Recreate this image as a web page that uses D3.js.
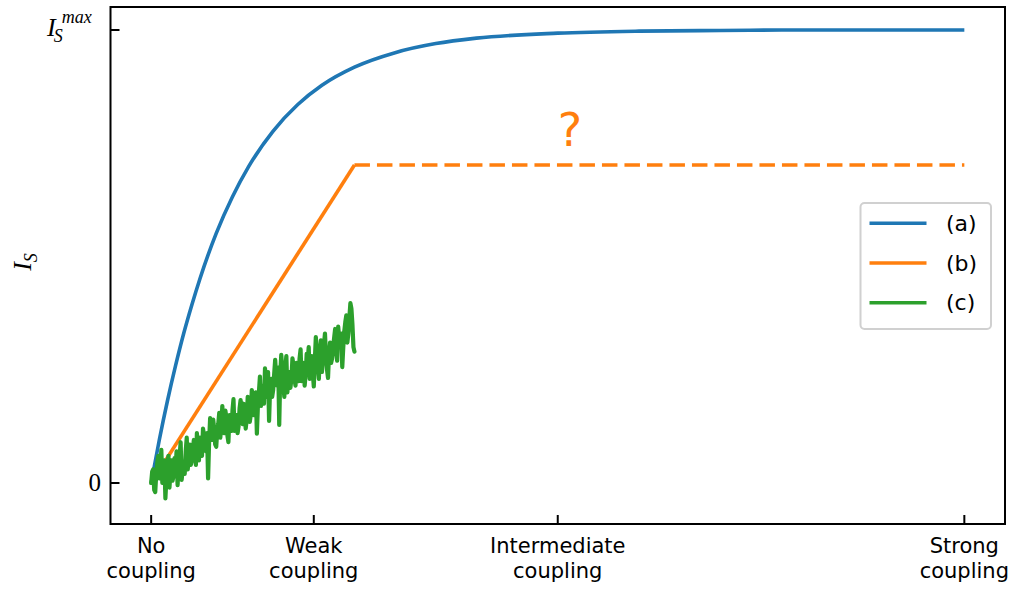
<!DOCTYPE html>
<html>
<head>
<meta charset="utf-8">
<script src="https://cdn.jsdelivr.net/npm/d3@7"></script>
<style>
  html, body { margin: 0; padding: 0; background: #fff; }
  svg { display: block; }
</style>
</head>
<body>
<svg id="chart" width="1013" height="590"></svg>
<script>
// Coupling regimes on the x axis
const xTickValues = [0, 0.2, 0.5, 1.0];
const xTickLabels = [["No", "coupling"], ["Weak", "coupling"], ["Intermediate", "coupling"], ["Strong", "coupling"]];

// Curve (a): saturating response
const curveAX = [0, 0.01, 0.02, 0.03, 0.04, 0.05, 0.06, 0.08, 0.10, 0.12, 0.15, 0.18, 0.21, 0.25, 0.30, 0.35, 0.40, 0.50, 0.60, 0.70, 0.80, 0.90, 1.00];
const curveAY = [0, 0.095, 0.181, 0.259, 0.330, 0.393, 0.451, 0.551, 0.632, 0.699, 0.777, 0.835, 0.878, 0.918, 0.950, 0.970, 0.982, 0.993, 0.9975, 0.999, 1.0, 1.0, 1.0];

// Curve (b): linear rise, then unknown plateau
const curveBX = [0, 0.25];
const curveBY = [0, 0.702];
const curveBDashX = [0.25, 1.0];
const curveBDashY = [0.702, 0.702];

// Curve (c): noisy measurement, x from 0 to 0.25 in steps of 0.00125
const curveCStep = 0.00125;
const curveCY = [
  0.000, 0.025, 0.030, -0.015, -0.020, 0.020, 0.045, 0.060, 0.010, 0.035, 0.073, 0.000, 0.020, 0.050, -0.034, 0.010, 0.040, 0.060, -0.010, 0.025,
  0.050, 0.005, 0.015, 0.055, 0.035, 0.070, -0.005, 0.040, 0.060, 0.090, 0.007, 0.030, 0.045, 0.020, 0.070, 0.100, 0.030, 0.060, 0.085, 0.040,
  0.050, 0.075, 0.095, 0.060, 0.040, 0.110, 0.080, 0.050, 0.100, 0.075, 0.060, 0.120, 0.105, 0.080, 0.070, 0.110, 0.010, 0.090, 0.143, 0.120,
  0.095, 0.140, 0.120, 0.085, 0.080, 0.115, 0.130, 0.155, 0.100, 0.125, 0.170, 0.130, 0.110, 0.160, 0.145, 0.105, 0.090, 0.150, 0.135, 0.115,
  0.160, 0.185, 0.115, 0.140, 0.150, 0.110, 0.125, 0.165, 0.183, 0.150, 0.130, 0.175, 0.160, 0.120, 0.140, 0.190, 0.175, 0.135, 0.150, 0.205,
  0.190, 0.150, 0.165, 0.200, 0.109, 0.170, 0.200, 0.235, 0.170, 0.195, 0.215, 0.175, 0.253, 0.220, 0.190, 0.245, 0.137, 0.210, 0.230, 0.190,
  0.205, 0.240, 0.272, 0.235, 0.215, 0.255, 0.128, 0.240, 0.283, 0.250, 0.220, 0.190, 0.255, 0.280, 0.200, 0.230, 0.245, 0.210, 0.230, 0.275,
  0.260, 0.230, 0.215, 0.265, 0.250, 0.225, 0.275, 0.295, 0.225, 0.250, 0.265, 0.215, 0.240, 0.285, 0.270, 0.300, 0.230, 0.260, 0.280, 0.245,
  0.213, 0.270, 0.322, 0.290, 0.260, 0.230, 0.290, 0.315, 0.245, 0.275, 0.305, 0.330, 0.280, 0.250, 0.232, 0.285, 0.310, 0.265, 0.275, 0.300,
  0.320, 0.340, 0.290, 0.270, 0.345, 0.320, 0.300, 0.330, 0.256, 0.300, 0.335, 0.355, 0.370, 0.310, 0.330, 0.365, 0.397, 0.385, 0.350, 0.300,
  0.290
];

const legendLabels = ["(a)", "(b)", "(c)"];
const colors = ["#1f77b4", "#ff7f0e", "#2ca02c"];

const svg = d3.select("#chart");
svg.append("rect").attr("width", 1013).attr("height", 590).attr("fill", "#fff");

const x = d3.scaleLinear().domain([-0.05, 1.05]).range([110.5, 1005]);
const y = d3.scaleLinear().domain([0, 1]).range([483, 30]);
const plotTop = 7, plotBottom = 524;

const sansFont = "'DejaVu Sans', sans-serif";
const serifFont = "'Liberation Serif', 'DejaVu Serif', serif";

// Clip region for the plot area
svg.append("clipPath").attr("id", "plotClip")
  .append("rect")
  .attr("x", x.range()[0]).attr("y", plotTop)
  .attr("width", x.range()[1] - x.range()[0]).attr("height", plotBottom - plotTop);

const plot = svg.append("g").attr("clip-path", "url(#plotClip)");

const line = d3.line().x(d => x(d[0])).y(d => y(d[1]));

// (a)
plot.append("path")
  .datum(curveAX.map((v, i) => [v, curveAY[i]]))
  .attr("d", line.curve(d3.curveMonotoneX))
  .attr("fill", "none").attr("stroke", colors[0]).attr("stroke-width", 3.6)
  .attr("stroke-linejoin", "round").attr("stroke-linecap", "butt");

line.curve(d3.curveLinear);

// (b) solid part and dashed continuation
plot.append("path")
  .datum(curveBX.map((v, i) => [v, curveBY[i]]))
  .attr("d", line)
  .attr("fill", "none").attr("stroke", colors[1]).attr("stroke-width", 3.6)
  .attr("stroke-linejoin", "round");

plot.append("path")
  .datum(curveBDashX.map((v, i) => [v, curveBDashY[i]]))
  .attr("d", line)
  .attr("fill", "none").attr("stroke", colors[1]).attr("stroke-width", 3.6)
  .attr("stroke-dasharray", "15.5,7");

// (c)
plot.append("path")
  .datum(curveCY.map((v, i) => [i * curveCStep, v]))
  .attr("d", line)
  .attr("fill", "none").attr("stroke", colors[2]).attr("stroke-width", 4.2)
  .attr("stroke-linejoin", "round").attr("stroke-linecap", "round");

// Question mark above the dashed plateau
svg.append("text")
  .attr("x", x(0.515)).attr("y", y(0.745))
  .attr("text-anchor", "middle")
  .attr("font-family", sansFont).attr("font-size", 46)
  .attr("fill", colors[1])
  .text("?");

// Frame
svg.append("rect")
  .attr("x", x.range()[0]).attr("y", plotTop)
  .attr("width", x.range()[1] - x.range()[0]).attr("height", plotBottom - plotTop)
  .attr("fill", "none").attr("stroke", "#000").attr("stroke-width", 2);

// X ticks (pointing inward) and two-line labels
const xAxis = svg.append("g");
xTickValues.forEach((v, i) => {
  xAxis.append("line")
    .attr("x1", x(v)).attr("x2", x(v))
    .attr("y1", plotBottom).attr("y2", plotBottom - 9)
    .attr("stroke", "#000").attr("stroke-width", 2);
  const t = xAxis.append("text")
    .attr("text-anchor", "middle")
    .attr("font-family", sansFont).attr("font-size", 21)
    .attr("fill", "#000");
  xTickLabels[i].forEach((s, k) => {
    t.append("tspan").attr("x", x(v)).attr("y", 553 + k * 25).text(s);
  });
});

// Y ticks (pointing inward)
const yAxis = svg.append("g");
[0, 1].forEach(v => {
  yAxis.append("line")
    .attr("x1", x.range()[0]).attr("x2", x.range()[0] + 9)
    .attr("y1", y(v)).attr("y2", y(v))
    .attr("stroke", "#000").attr("stroke-width", 2);
});

yAxis.append("text")
  .attr("x", 101).attr("y", y(0) + 8)
  .attr("text-anchor", "end")
  .attr("font-family", serifFont).attr("font-size", 25)
  .text("0");

const maxLabel = yAxis.append("text")
  .attr("x", 47).attr("y", y(1) + 6)
  .attr("font-family", serifFont).attr("fill", "#000");
maxLabel.append("tspan").attr("font-size", 26).attr("font-style", "italic").text("I");
maxLabel.append("tspan").attr("font-size", 18).attr("font-style", "italic").attr("dx", -2).attr("dy", 6).text("S");
maxLabel.append("tspan").attr("font-size", 18).attr("font-style", "italic").attr("dx", -1).attr("dy", -19).text("max");

// Y axis title
const yTitle = svg.append("text")
  .attr("transform", "translate(31,262) rotate(-90)")
  .attr("text-anchor", "middle")
  .attr("font-family", serifFont).attr("fill", "#000");
yTitle.append("tspan").attr("font-size", 26).attr("font-style", "italic").text("I");
yTitle.append("tspan").attr("font-size", 18).attr("font-style", "italic").attr("dy", 6).text("S");

// Legend
const legend = svg.append("g");
legend.append("rect")
  .attr("x", 860.5).attr("y", 203).attr("width", 130.5).attr("height", 126)
  .attr("rx", 4).attr("ry", 4)
  .attr("fill", "#fff").attr("fill-opacity", 0.8)
  .attr("stroke", "#d0d0d0").attr("stroke-width", 2);
legendLabels.forEach((lab, i) => {
  const ly = 223.3 + i * 39.7;
  legend.append("line")
    .attr("x1", 869.5).attr("x2", 926.5).attr("y1", ly).attr("y2", ly)
    .attr("stroke", colors[i]).attr("stroke-width", 3.6);
  legend.append("text")
    .attr("x", 946).attr("y", ly)
    .attr("dy", "0.35em")
    .attr("font-family", sansFont).attr("font-size", 22)
    .attr("fill", "#000")
    .text(lab);
});
</script>
</body>
</html>
